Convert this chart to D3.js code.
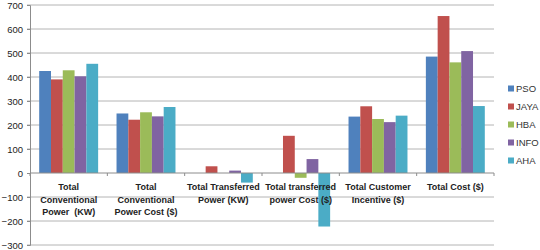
<!DOCTYPE html>
<html>
<head>
<meta charset="utf-8">
<script src="https://cdn.jsdelivr.net/npm/d3@7"></script>
<style>
  body { margin: 0; background: #fff; }
  svg { display: block; font-family: "Liberation Sans", Arial, sans-serif; }
</style>
</head>
<body>
<div id="chart"></div>
<script>
// Grouped bar chart: cost/power totals per algorithm

// Category labels, one entry per line
const categories = [
  ["Total", "Conventional", "Power  (KW)"],
  ["Total", "Conventional", "Power Cost ($)"],
  ["Total Transferred", "Power (KW)"],
  ["Total transferred", "power Cost ($)"],
  ["Total Customer", "Incentive ($)"],
  ["Total Cost ($)"]
];

const seriesNames = ["PSO", "JAYA", "HBA", "INFO", "AHA"];

const pso  = [425, 248, 0,   0,   235, 485];
const jaya = [390, 222, 28,  155, 278, 654];
const hba  = [428, 253, 0,   -20, 225, 461];
const info = [403, 236, 10,  58,  212, 508];
const aha  = [455, 275, -40, -223, 239, 279];

const yTicks = [-300, -200, -100, 0, 100, 200, 300, 400, 500, 600, 700];

const colors = ["#4F81BD", "#C0504D", "#9BBB59", "#8064A2", "#4BACC6"];

const seriesValues = [pso, jaya, hba, info, aha];

const width = 540, height = 250;
const margin = { top: 5, right: 46, bottom: 5, left: 30 };
const innerWidth  = width  - margin.left - margin.right;
const innerHeight = height - margin.top  - margin.bottom;

const svg = d3.select("#chart")
  .append("svg")
  .attr("width", width)
  .attr("height", height);

const g = svg.append("g")
  .attr("transform", `translate(${margin.left}, ${margin.top})`);

// Scales
const catIdx = categories.map((c, i) => i);

const x = d3.scaleBand()
  .domain(catIdx)
  .range([0, innerWidth])
  .paddingInner(0)
  .paddingOuter(0);

const xSub = d3.scaleBand()
  .domain(seriesNames)
  .range([0, x.bandwidth()])
  .paddingInner(0)
  .paddingOuter(0.78);

const y = d3.scaleLinear()
  .domain([-300, 700])
  .range([innerHeight, 0]);

// Gridlines (except zero, which is the axis)
g.append("g")
  .selectAll("line")
  .data(yTicks.filter(d => d !== 0))
  .join("line")
  .attr("x1", -3)
  .attr("x2", innerWidth)
  .attr("y1", d => y(d))
  .attr("y2", d => y(d))
  .attr("stroke", "#b4b4b4")
  .attr("stroke-width", 1);

// Y axis
const yAxis = g.append("g")
  .call(d3.axisLeft(y).tickValues(yTicks).tickSize(3).tickPadding(4));
yAxis.select(".domain").attr("stroke", "#8c8c8c");
yAxis.selectAll(".tick line").attr("stroke", "#8c8c8c");
yAxis.selectAll("text")
  .style("font-size", "9.5px")
  .attr("fill", "#222");

// Bars
const groups = g.selectAll(".cat")
  .data(catIdx)
  .join("g")
  .attr("class", "cat")
  .attr("transform", i => `translate(${x(i)}, 0)`);

groups.selectAll("rect")
  .data(i => seriesNames.map((s, k) => ({ s, v: seriesValues[k][i], c: colors[k] })))
  .join("rect")
  .attr("x", d => xSub(d.s))
  .attr("width", xSub.bandwidth())
  .attr("y", d => y(Math.max(0, d.v)))
  .attr("height", d => Math.abs(y(d.v) - y(0)))
  .attr("fill", d => d.c);

// Zero axis with category separator ticks
const xAxis = g.append("g")
  .attr("transform", `translate(0, ${y(0)})`);

xAxis.append("line")
  .attr("x1", 0)
  .attr("x2", innerWidth)
  .attr("stroke", "#8c8c8c");

xAxis.selectAll(".sep")
  .data(d3.range(categories.length + 1))
  .join("line")
  .attr("class", "sep")
  .attr("x1", i => i * x.step())
  .attr("x2", i => i * x.step())
  .attr("y1", 0)
  .attr("y2", 3)
  .attr("stroke", "#8c8c8c");

// Category labels
const labels = xAxis.selectAll(".lbl")
  .data(catIdx)
  .join("text")
  .attr("class", "lbl")
  .attr("text-anchor", "middle")
  .attr("x", i => x(i) + x.bandwidth() / 2)
  .attr("y", 17)
  .style("font-size", "9px")
  .style("font-weight", "bold")
  .attr("fill", "#222");

labels.selectAll("tspan")
  .data(i => categories[i].map((t, k) => ({ t, k, cx: x(i) + x.bandwidth() / 2 })))
  .join("tspan")
  .attr("x", d => d.cx)
  .attr("dy", d => d.k === 0 ? 0 : 12.5)
  .style("white-space", "pre")
  .text(d => d.t);

// Legend
const legend = svg.append("g")
  .attr("transform", `translate(${width - margin.right + 14}, 89)`);

seriesNames.forEach((s, k) => {
  const row = legend.append("g")
    .attr("transform", `translate(0, ${k * 18})`);
  row.append("rect")
    .attr("x", 0).attr("y", -3.5)
    .attr("width", 6).attr("height", 6)
    .attr("fill", colors[k]);
  row.append("text")
    .attr("x", 8).attr("y", 3)
    .style("font-size", "9.5px")
    .attr("fill", "#333")
    .text(s);
});
</script>
</body>
</html>
